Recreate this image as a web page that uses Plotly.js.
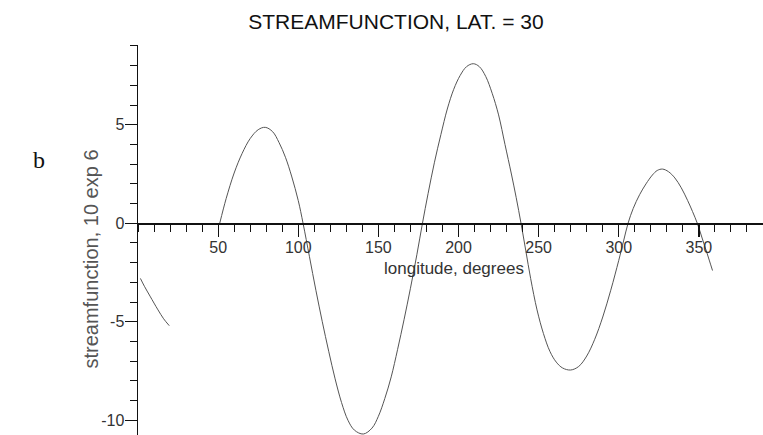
<!DOCTYPE html>
<html>
<head>
<meta charset="utf-8">
<script src="https://cdn.plot.ly/plotly-3.0.1.min.js"></script>
<style>html,body{margin:0;padding:0;background:#fff;}#chart{width:763px;height:435px;}</style>
</head>
<body>
<div id="chart"></div>
<script>
// Data (longitude in degrees, streamfunction in 10^6 units)
var lonA = [1.5, 4, 7.5, 12.5, 16, 19.5];
var psiA = [-2.8, -3.2, -3.7, -4.4, -4.85, -5.2];

var lonB = [51, 55, 60, 65, 70, 75, 79.4, 84, 88, 92, 96, 100, 103,
            107, 111, 115, 119, 123, 127, 131, 135, 140.6, 146, 150, 154, 158, 162, 166, 170, 174, 177.5,
            181, 185, 189, 193, 197, 201, 205, 209.2, 213, 217, 221, 225, 229, 233, 236, 239,
            242, 245, 249, 253, 257, 261, 265, 270, 275, 280, 285, 290, 295, 300, 303, 305.8,
            309, 313, 317, 321, 324, 327.3, 331, 335, 339, 343, 346, 349, 352, 355, 358.5];
var psiB = [0, 1.25, 2.55, 3.55, 4.3, 4.75, 4.87, 4.65, 4.1, 3.35, 2.35, 1.15, 0,
            -1.7, -3.4, -5.0, -6.5, -7.9, -9.1, -10.0, -10.5, -10.7, -10.4, -9.8, -8.9, -7.8, -6.4, -4.9, -3.3, -1.6, 0,
            1.5, 3.1, 4.5, 5.8, 6.8, 7.5, 7.95, 8.1, 7.95, 7.45, 6.6, 5.5, 4.0, 2.5, 1.3, 0,
            -1.4, -2.8, -4.4, -5.6, -6.5, -7.05, -7.35, -7.45, -7.27, -6.74, -5.89, -4.76, -3.4, -1.88, -0.9, 0,
            0.75, 1.45, 2.0, 2.45, 2.68, 2.75, 2.62, 2.3, 1.8, 1.15, 0.6, 0, -0.75, -1.5, -2.4];

var xTickVals = [50, 100, 150, 200, 250, 300, 350];
var xTickText = ['50', '100', '150', '200', '250', '300', '350'];
var yTickVals = [-10, -5, 0, 5];
var yTickText = ['-10', '-5', '0', '5'];

var xRange = [0, 390];
var yRange = [-10.75, 9.05];

var lon = lonA.concat([null], lonB);
var psi = psiA.concat([null], psiB);

var FONT = 'Liberation Sans, Arial, sans-serif';

var trace = {
  x: lon, y: psi, type: 'scatter', mode: 'lines',
  line: {color: '#555', width: 1, shape: 'spline', smoothing: 1},
  connectgaps: false, hoverinfo: 'skip'
};

var zeroPos = (0 - yRange[0]) / (yRange[1] - yRange[0]);

var layout = {
  width: 763, height: 435,
  margin: {l: 138, r: 0, t: 45, b: 0},
  paper_bgcolor: '#fff', plot_bgcolor: 'rgba(0,0,0,0)',
  showlegend: false,
  font: {family: FONT, color: '#333'},
  title: {text: 'STREAMFUNCTION, LAT. = 30', font: {family: FONT, size: 21, color: '#111'},
          xref: 'container', x: 0.519, xanchor: 'center', yref: 'container', y: 0.95, yanchor: 'middle'},
  xaxis: {
    range: xRange, showgrid: false, zeroline: false,
    anchor: 'free', position: zeroPos,
    showline: true, linecolor: '#111', linewidth: 1.5,
    tickmode: 'array', tickvals: xTickVals, ticktext: xTickText,
    ticks: 'outside', ticklen: 12, tickwidth: 1.2, tickcolor: '#111',
    minor: {tickmode: 'linear', tick0: 0, dtick: 10, ticks: 'outside', ticklen: 7, tickwidth: 1, tickcolor: '#111'},
    tickfont: {family: FONT, size: 16, color: '#333'}, ticklabelstandoff: -3
  },
  yaxis: {
    range: yRange, showgrid: false, zeroline: false,
    showline: true, linecolor: '#111', linewidth: 1.5,
    tickmode: 'array', tickvals: yTickVals, ticktext: yTickText,
    ticks: 'outside', ticklen: 12, tickwidth: 1.2, tickcolor: '#111',
    minor: {tickmode: 'linear', tick0: 0, dtick: 1, ticks: 'outside', ticklen: 7, tickwidth: 1, tickcolor: '#111'},
    tickfont: {family: FONT, size: 16, color: '#333'}, ticklabelstandoff: -3
  },
  annotations: [
    {text: 'longitude, degrees', xref: 'paper', yref: 'paper', x: 0.5056, y: 0.428,
     xanchor: 'center', yanchor: 'middle', showarrow: false, font: {family: FONT, size: 17, color: '#333'}},
    {text: 'streamfunction, 10 exp 6', xref: 'paper', yref: 'paper', x: -0.0768, y: 0.45,
     xanchor: 'center', yanchor: 'middle', textangle: -90, showarrow: false, font: {family: FONT, size: 20, color: '#555'}},
    {text: 'b', xref: 'paper', yref: 'paper', x: -0.158, y: 0.705,
     xanchor: 'center', yanchor: 'middle', showarrow: false, font: {family: 'Liberation Serif, Times New Roman, serif', size: 24, color: '#111'}}
  ]
};

Plotly.newPlot('chart', [trace], layout, {displayModeBar: false, staticPlot: true});
</script>
</body>
</html>
